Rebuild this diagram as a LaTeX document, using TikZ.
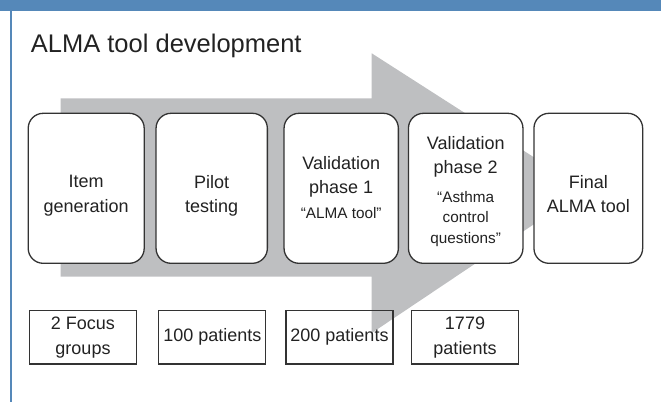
\documentclass[tikz,border=0pt]{standalone}
\usepackage{fontspec}
\setmainfont{Liberation Sans}
\definecolor{barblue}{HTML}{5588B9}
\definecolor{arrowgray}{HTML}{BEBFC1}
\definecolor{boxline}{HTML}{333333}
\definecolor{ink}{HTML}{222222}
\newcommand{\smalltext}{\fontsize{15.3}{20}\selectfont}
\begin{document}
\begin{tikzpicture}[x=1pt,y=-1pt,
  stagebox/.style={draw=boxline, line width=1.3pt, fill=white,
    rounded corners=15pt, inner sep=0pt, minimum height=150pt},
  stagetext/.style={anchor=north, inner sep=0pt, align=center, text=ink,
    font=\fontsize{18}{24.5}\selectfont},
  countbox/.style={draw=boxline, line width=1.2pt, inner sep=0pt, text=ink,
    minimum width=107pt, minimum height=53.3pt, align=center,
    font=\fontsize{18}{25}\selectfont}]
\useasboundingbox (0,0) rectangle (661,402);

% header bar and left rule
\fill[barblue] (0,0) rectangle (661,10.5);
\draw[barblue, line width=2pt] (11,10.5) -- (11,402);

% title
\node[anchor=base west, inner sep=0pt, text=ink, font=\fontsize{25.5}{30}\selectfont]
  (title) at (30.7,52.7) {ALMA tool development};

% big process arrow behind the stages
\fill[arrowgray] (60.7,98.3) -- (371.7,98.3) -- (371.7,53.3) -- (585,190)
  -- (371.7,333) -- (371.7,276.7) -- (60.7,276.7) -- cycle;

% stages
\node[stagebox, minimum width=116pt]   (s1) at (86.2,188.3)  {};
\node[stagebox, minimum width=111.3pt] (s2) at (211.7,188.3) {};
\node[stagebox, minimum width=114.3pt] (s3) at (341.2,188.3) {};
\node[stagebox, minimum width=114.5pt] (s4) at (465.7,188.3) {};
\node[stagebox, minimum width=108.7pt] (s5) at (588.3,188.3) {};

\node[stagetext] (s1t) at (86.2,175)  {Item\\generation};
\node[stagetext] (s2t) at (211.7,175) {Pilot\\testing};
\node[stagetext] (s3t) at (341.2,156) {Validation\\phase 1\\\smalltext “ALMA tool”};
\node[stagetext] (s4t) at (465.7,136) {Validation\\phase 2\\[4pt]\smalltext “Asthma\\[-4pt]\smalltext control\\[-4pt]\smalltext questions”};
\node[stagetext] (s5t) at (588.3,175) {Final\\ALMA tool};

% sample sizes
\node[countbox] (c1) at (83,337.3)    {2 Focus\\groups};
\node[countbox] (c2) at (212.3,337.3) {100 patients};
\node[countbox] (c3) at (339.5,337.3) {200 patients};
\node[countbox] (c4) at (465,337.3)   {1779\\patients};
\end{tikzpicture}
\end{document}
